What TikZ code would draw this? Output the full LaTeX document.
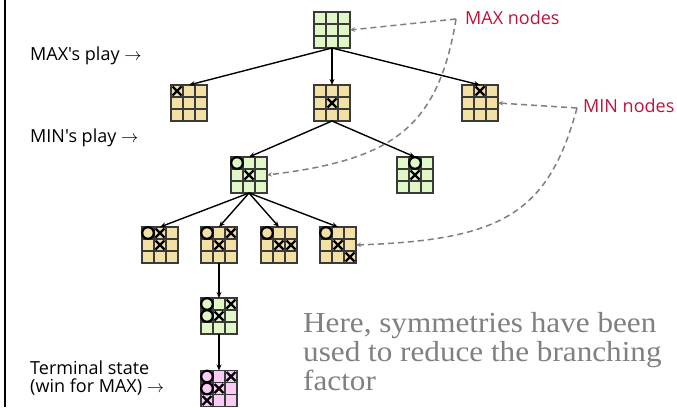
\documentclass[tikz,border=0pt]{standalone}
\usepackage{fontspec}
\setmainfont{Liberation Serif}
\newfontfamily\notefont[FakeStretch=1.075]{Liberation Serif}
\newfontfamily\lblfont{Open Sans}
\usetikzlibrary{arrows.meta}
\definecolor{bgreen}{HTML}{E0F8C8}
\definecolor{btan}{HTML}{F2E0A4}
\definecolor{bpink}{HTML}{F9CCF6}
\definecolor{crim}{HTML}{C0143C}
\definecolor{dgray}{HTML}{808080}
\definecolor{gridc}{HTML}{3A3A3A}
\tikzset{
 board/.style={draw=gridc, line width=1.3pt, minimum size=36pt, inner sep=0pt, outer sep=0pt},
 gridline/.style={draw=gridc, line width=1.3pt},
 xmark/.style={draw=black, line width=2.4pt},
 omark/.style={draw=black, line width=2.2pt},
 tree/.style={draw=black, line width=1.4pt, -{Stealth[length=6pt,width=5pt]}},
 hint/.style={draw=dgray, line width=1.5pt, dash pattern=on 6pt off 4pt, -{Stealth[length=5pt,width=4.5pt]}},
 lbl/.style={font=\lblfont\fontsize{18}{18}\selectfont, anchor=base west, inner sep=0pt},
}
\newcommand\bd[4]{%
 \node[board, fill=#4] (#1) at (#2,#3) {};
 \draw[gridline] (#2-6,#3-18) -- (#2-6,#3+18) (#2+6,#3-18) -- (#2+6,#3+18)
   (#2-18,#3-6) -- (#2+18,#3-6) (#2-18,#3+6) -- (#2+18,#3+6);
}
\newcommand\Xm[3]{\draw[xmark] (#1) ++({(#2-2)*12-4.5},{(#3-2)*12-4.5}) -- ++(9,9) ++(-9,0) -- ++(9,-9);}
\newcommand\Om[3]{\draw[omark] (#1) ++({(#2-2)*12},{(#3-2)*12}) circle[radius=5.8pt];}
\begin{document}
\begin{tikzpicture}[x=1pt,y=-1pt]
\useasboundingbox (0,0) rectangle (677,407);
\fill[white] (0,0) rectangle (677,407);
\draw[line width=1.8pt] (5,0) -- (5,407);
% boards
\bd{r}{332}{30}{bgreen}
\bd{a1}{189}{103}{btan} \Xm{a1}{1}{1}
\bd{a2}{332}{103}{btan} \Xm{a2}{2}{2}
\bd{a3}{480}{103}{btan} \Xm{a3}{2}{1}
\bd{b1}{249}{175}{bgreen} \Om{b1}{1}{1} \Xm{b1}{2}{2}
\bd{b2}{415}{175}{bgreen} \Om{b2}{2}{1} \Xm{b2}{2}{2}
\bd{c1}{160}{245}{btan} \Om{c1}{1}{1} \Xm{c1}{2}{1} \Xm{c1}{2}{2}
\bd{c2}{219}{245}{btan} \Om{c2}{1}{1} \Xm{c2}{3}{1} \Xm{c2}{2}{2}
\bd{c3}{279}{245}{btan} \Om{c3}{1}{1} \Xm{c3}{2}{2} \Xm{c3}{3}{2}
\bd{c4}{338}{245}{btan} \Om{c4}{1}{1} \Xm{c4}{2}{2} \Xm{c4}{3}{3}
\bd{d1}{219}{316}{bgreen} \Om{d1}{1}{1} \Xm{d1}{3}{1} \Om{d1}{1}{2} \Xm{d1}{2}{2}
\bd{e1}{219}{388.5}{bpink} \Om{e1}{1}{1} \Xm{e1}{3}{1} \Om{e1}{1}{2} \Xm{e1}{2}{2} \Xm{e1}{1}{3}
% tree edges
\draw[tree] (r.south) -- (a1.north);
\draw[tree] (r.south) -- (a2.north);
\draw[tree] (r.south) -- (a3.north);
\draw[tree] (a2.south) -- (b1.north);
\draw[tree] (a2.south) -- (b2.north);
\draw[tree] (b1.south) -- (c1.north);
\draw[tree] (b1.south) -- (c2.north);
\draw[tree] (b1.south) -- (c3.north);
\draw[tree] (b1.south) -- (c4.north);
\draw[tree] (c2.south) -- (d1.north);
\draw[tree] (d1.south) -- (e1.north);
% hints
\coordinate (mx) at (456,19);
\coordinate (mn) at (577,108);
\draw[hint] (mx) -- (r.east);
\draw[hint] (mx) .. controls (438,130) and (390,160) .. (b1.east);
\draw[hint] (mn) -- (a3.east);
\draw[hint] (mn) .. controls (548,215) and (500,240) .. (c4.east);
% labels
\node[lbl] (maxplay) at (30,60) {MAX's play $\rightarrow$};
\node[lbl] (minplay) at (30,142) {MIN's play $\rightarrow$};
\node[lbl, align=left] (term) at (30,392) {Terminal state\\(win for MAX) $\rightarrow$};
\node[lbl, text=crim] (maxn) at (465,24) {MAX nodes};
\node[lbl, text=crim] (minn) at (583,112) {MIN nodes};
\node[anchor=north west, inner sep=0pt, align=left, text=dgray, font=\notefont\fontsize{29}{29}\selectfont] (note) at (303,312) {Here, symmetries have been\\used to reduce the branching\\factor};
\end{tikzpicture}
\end{document}
